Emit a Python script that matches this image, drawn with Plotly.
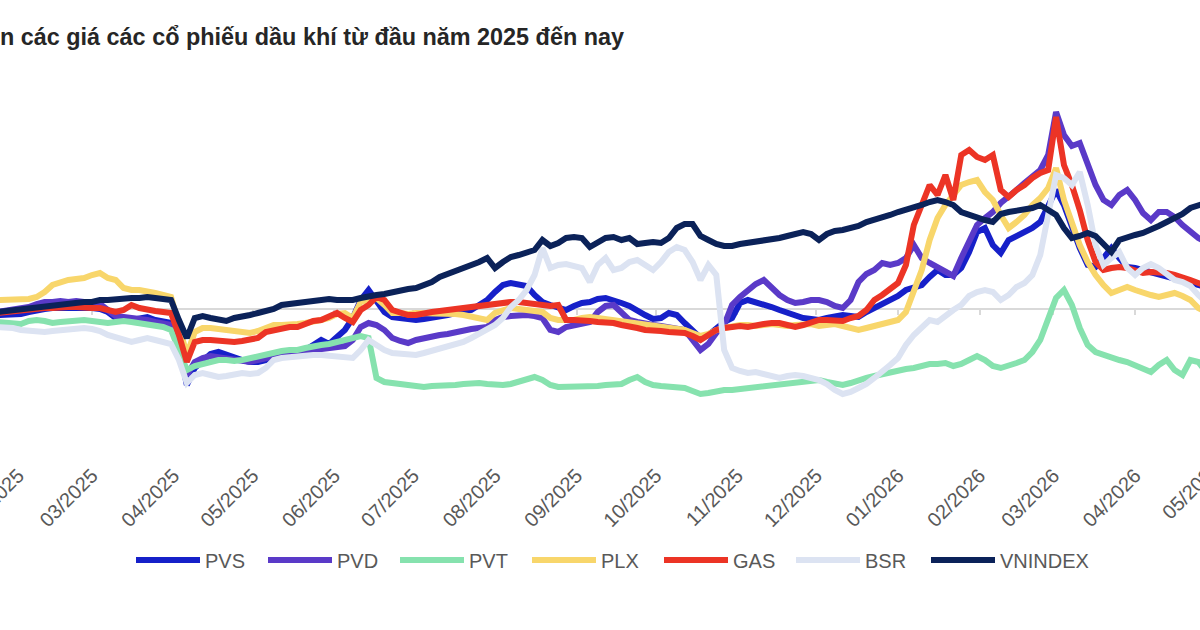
import pandas as pd
import plotly.graph_objects as go

# ---------------- data (% change) ----------------
start_date = "2025-01-24"   # first sample, every 3 calendar days

pvs = [-3, -3, -2.5, -2.5, -1.5, -0.5, 0, 0.5, 0.5, 0.5,
       1, 0.5, 0.5, 0, -1.5, -4.5, -4.5, -5.5, -4.5, -4,
       -5.5, -6.5, -7, -18, -38, -29.5, -25.5, -22.5, -21.5, -23,
       -24.5, -25.5, -26.5, -26.5, -25.5, -24.5, -23.5, -22.5, -21.5, -20.5,
       -18, -15.5, -17.5, -13.5, -10.5, -4.5, 4.5, 9.5, 4.5, -1.5,
       -4, -4.5, -5.5, -5.5, -5, -4.5, -4, -3, -2, -1.5,
       -0.5, 2, 4.5, 8.5, 12, 13, 12, 11.5, 7, 3.5,
       2, 1, -0.5, 1.5, 3, 3.5, 5, 5.5, 4.5, 3,
       1.5, -1, -3, -5, -4.5, -2, -3, -7, -10.5, -14.5,
       -13, -9.5, -6.5, -4.5, 3, 4.5, 3.5, 2, 1, -0.5,
       -2, -3.5, -4.5, -5, -5.5, -4.5, -3.5, -3, -3.5, -4,
       -1.5, 0.5, 3, 4.5, 6.5, 9.5, 10.5, 12, 16, 19.5,
       17, 17, 20.5, 28.5, 38.5, 40.5, 32, 28, 34.5, 36.5,
       38.5, 40.5, 43.5, 52, 59.5, 52, 40.5, 30.5, 22, 21,
       25.5, 30.5, 25.5, 21, 20.5, 19.5, 18.5, 17.5, 16.5, 15.5,
       14.5, 13, 12, 11]

pvd = [-1.5, -1, -0.5, 0, 1, 2.5, 3.5, 3.5, 4, 3.5,
       4, 3.5, 3, 2.5, -0.5, -3.5, -4, -4.5, -4.5, -5.5,
       -6.5, -7.5, -8, -18, -33, -26.5, -24.5, -23.5, -24, -24.5,
       -25.5, -26, -26.5, -25.5, -24.5, -24, -23, -22, -21.5, -21,
       -20.5, -20.5, -20, -19.5, -18.5, -15.5, -9, -7, -8, -10.5,
       -14.5, -16, -17, -15.5, -14.5, -14, -13, -12.5, -11.5, -11,
       -10, -9.5, -9, -5.5, -4, -3.5, -3, -3, -3.5, -4.5,
       -10.5, -11.5, -9, -8, -7.5, -6.5, -1.5, 1.5, 2, -1.5,
       -5.5, -6.5, -7.5, -8, -8.5, -9, -9.5, -10.5, -15.5, -20.5,
       -17.5, -12, -8, 2, 6, 9.5, 12.5, 14.5, 10.5, 7,
       4.5, 3, 3.5, 4.5, 4.5, 3.5, 1.5, 0.5, 4.5, 13.5,
       17.5, 19.5, 23, 22, 23, 25.5, 32, 25.5, 23, 21,
       18.5, 16.5, 25.5, 34.5, 42, 45.5, 48.5, 53, 56, 59.5,
       63, 66.5, 69.5, 77, 98.5, 87, 81.5, 83, 72, 62,
       54.5, 52, 57, 59.5, 54.5, 48, 44.5, 48.5, 48.5, 46,
       42, 38.5, 35.5, 33.5]

pvt = [-6.5, -7, -7.5, -7.5, -6, -5.5, -6, -7, -6.5, -6,
       -5.5, -5.5, -6, -6.5, -7, -6.5, -6, -6.5, -7, -8,
       -8.5, -9, -10.5, -20.5, -30.5, -28.5, -27.5, -26.5, -25.5, -25.5,
       -26, -25.5, -24.5, -24, -23, -22, -21, -20.5, -20.5, -19.5,
       -18.5, -18, -17.5, -16.5, -15.5, -14.5, -13.5, -14.5, -34.5, -36.5,
       -37, -38, -38.5, -39, -39, -38.5, -38.5, -38, -38, -37.5,
       -37, -37, -37.5, -38, -38, -37.5, -36.5, -35.5, -34, -35.5,
       -38, -39, -39, -39, -39, -38.5, -38.5, -38, -38, -37.5,
       -35.5, -34, -36.5, -38, -38.5, -39, -39.5, -39.5, -41, -42.5,
       -42, -41, -40.5, -40.5, -40, -39.5, -39.5, -39, -38.5, -38,
       -37.5, -37, -36.5, -36, -35.5, -36.5, -37.5, -38, -37, -35.5,
       -34.5, -33.5, -32.5, -31.5, -30.5, -30, -29.5, -28.5, -27.5, -27.5,
       -27, -28.5, -27.5, -25.5, -23.5, -25.5, -28.5, -29.5, -28.5, -27,
       -25.5, -21.5, -15.5, -4.5, 5.5, 9.5, 2, -9.5, -18, -21.5,
       -23, -24, -25.5, -26.5, -28, -29.5, -31.5, -28, -25.5, -30.5,
       -33, -25.5, -26.5, -31.5]

plx = [4.5, 4.5, 4.5, 4.5, 5, 6, 8.5, 12, 13.5, 14.5,
       15, 15.5, 17, 18, 15.5, 14.5, 10.5, 9.5, 9.5, 9,
       8, 7, 6, -8, -23, -11.5, -9.5, -9.5, -10, -10.5,
       -11, -11.5, -12, -11, -9.5, -8, -8, -8, -7.5, -7,
       -6.5, -5.5, -4.5, -2.5, -2, -4.5, 3.5, 4.5, 5.5, 2,
       -2, -2, -2.5, -2, -2, -2.5, -2, -2, -2.5, -3,
       -4, -5, -5.5, -2, -0.5, 0.5, 0, -0.5, -0.5, -1.5,
       -4.5, -5.5, -5.5, -5.5, -4.5, -4, -4.5, -5, -5.5, -6,
       -6.5, -7, -7.5, -8, -8.5, -9, -9.5, -10.5, -12, -13.5,
       -12.5, -10.5, -9.5, -8.5, -8, -8, -8.5, -8, -7.5, -8,
       -8.5, -8, -7.5, -7.5, -8.5, -8, -7.5, -8.5, -9.5, -10.5,
       -9.5, -8.5, -7.5, -6.5, -5.5, -1.5, 8.5, 19.5, 34.5, 45.5,
       52, 57, 62, 63.5, 64.5, 58.5, 54.5, 47, 40.5, 43.5,
       47, 52, 55.5, 60.5, 70.5, 54.5, 42, 32, 23.5, 17,
       12, 8, 9.5, 11, 9.5, 8, 7, 6, 7, 8,
       6.5, 4.5, 0.5, -1.5]

gas = [-2, -1.5, -1.5, -1, 0, 0.5, 0.5, 0.5, 1, 1,
       1, 0.5, 0.5, 0.5, -0.5, -1.5, -0.5, 2, 0.5, -0.5,
       -1, -1.5, -2, -13, -26.5, -16.5, -15.5, -15.5, -16, -16.5,
       -16.5, -16, -15.5, -14.5, -11.5, -10.5, -9.5, -9, -9, -7.5,
       -6, -5.5, -3.5, -2, -4.5, -6.5, -0.5, 2, 6, 4.5,
       -0.5, -2, -3, -3, -2, -1.5, -1, -0.5, 0, 0.5,
       1, 2, 2.5, 3, 3.5, 3.5, 3.5, 3, 2, 2,
       1.5, 2, -5.5, -5.5, -5.5, -6, -6.5, -6.5, -7, -8,
       -8.5, -9.5, -10.5, -10.5, -11, -11.5, -12, -12, -13.5, -15.5,
       -13, -10.5, -9.5, -9, -8.5, -9, -8, -7.5, -7, -7,
       -8, -9, -8, -6.5, -5.5, -5.5, -5.5, -6, -4.5, -3.5,
       -0.5, 4.5, 7, 10.5, 13, 22, 42, 52, 62, 57,
       67, 54.5, 77, 79.5, 76, 74.5, 77, 59.5, 56, 59.5,
       62, 65.5, 68, 69.5, 96, 72, 62, 49.5, 34.5, 23.5,
       19.5, 20.5, 21, 20.5, 19.5, 18, 18.5, 18.5, 18, 17,
       16, 14.5, 13, 11.5]

bsr = [-9, -9, -9.5, -10.5, -11, -11.5, -11.5, -11, -10.5, -10,
       -9.5, -9.5, -10, -11, -13, -14, -15.5, -16.5, -15.5, -14.5,
       -15.5, -16.5, -17.5, -25.5, -37, -33, -32, -33, -34, -33.5,
       -32.5, -32, -32.5, -32, -29.5, -25.5, -24.5, -24, -24, -23.5,
       -23, -23, -23.5, -24, -24.5, -24.5, -20.5, -15.5, -18, -20.5,
       -22, -22.5, -23, -23, -22, -21, -20, -19, -18, -16.5,
       -14.5, -12.5, -10.5, -8, -4.5, 1, 4.5, 9.5, 17, 30.5,
       20.5, 22, 22.5, 21.5, 20.5, 13.5, 22, 25.5, 19.5, 20.5,
       23.5, 24.5, 22, 19.5, 23.5, 28.5, 31, 29.5, 23.5, 14.5,
       22, 17, -20.5, -29.5, -31, -32, -31.5, -32.5, -34, -34.5,
       -33.5, -33, -33.5, -34.5, -35.5, -37.5, -40.5, -42.5, -41.5, -39.5,
       -37.5, -34.5, -31.5, -28, -24.5, -18, -13, -9.5, -5.5, -6.5,
       -3, -0.5, 2, 6.5, 8.5, 9.5, 8.5, 4.5, 7, 11,
       13, 17, 27, 47, 67, 65.5, 62, 68.5, 52, 32,
       22, 25.5, 28.5, 20.5, 17, 20.5, 22.5, 20.5, 17, 14.5,
       13.5, 11.5, 7, 3.5]

vnindex = [-1.5, -1, -0.5, 0, 0.5, 1, 1.5, 2, 2, 2.5,
           3, 3.5, 3.5, 4.5, 4.5, 5, 5.5, 5.5, 5.5, 6,
           5.5, 5, 4.5, -5.5, -14.5, -4.5, -3.5, -4.5, -5.5, -6,
           -4.5, -4, -3, -2, -1, 0, 2, 2.5, 3, 3.5,
           4.5, 4.5, 5, 4.5, 4.5, 4.5, 5.5, 6.5, 7, 7.5,
           8.5, 9, 10, 10.5, 12, 13.5, 16, 17.5, 18.5, 20.5,
           21.5, 23.5, 25.5, 20.5, 23.5, 26, 27, 28.5, 29.5, 34.5,
           31.5, 33, 35.5, 36, 35.5, 31, 33.5, 35.5, 36, 34.5,
           35.5, 32.5, 33, 33.5, 33, 35.5, 40.5, 42.5, 42.5, 36.5,
           34.5, 32.5, 31.5, 31.5, 32.5, 33, 34, 34.5, 34.5, 35.5,
           36.5, 37.5, 38.5, 37.5, 34.5, 37.5, 39, 39.5, 40.5, 41.5,
           43.5, 44.5, 45.5, 47, 48.5, 49.5, 50.5, 52, 53.5, 54.5,
           53.5, 52, 48.5, 47, 45.5, 44.5, 43.5, 47.5, 48.5, 49,
           49.5, 50.5, 52, 49.5, 47, 40.5, 35.5, 36.5, 38, 36.5,
           32, 28.5, 34.5, 36, 37, 38, 39.5, 41.5, 43.5, 45.5,
           47.5, 50.5, 52, 53]

series_names = ["PVS", "PVD", "PVT", "PLX", "GAS", "BSR", "VNINDEX"]
series_values = [pvs, pvd, pvt, plx, gas, bsr, vnindex]
series_colors = ["#1620c9", "#5a3ac8", "#86e2ae", "#f8d66b", "#ec3425", "#dce3f2", "#0b2259"]

tick_vals = ["2025-02-01", "2025-03-01", "2025-04-01", "2025-05-01", "2025-06-01",
             "2025-07-01", "2025-08-01", "2025-09-01", "2025-10-01", "2025-11-01",
             "2025-12-01", "2026-01-01", "2026-02-01", "2026-03-01", "2026-04-01",
             "2026-05-01"]
tick_text = ["02/2025", "03/2025", "04/2025", "05/2025", "06/2025", "07/2025",
             "08/2025", "09/2025", "10/2025", "11/2025", "12/2025", "01/2026",
             "02/2026", "03/2026", "04/2026", "05/2026"]

title_text = "n các giá các cổ phiếu dầu khí từ đầu năm 2025 đến nay"

# ---------------- figure ----------------
FONT = "Liberation Sans, Arial, sans-serif"
W, H = 1200, 630
M_T, M_B = 80, 171
Y_RANGE = [-75, 114.5]
X_RANGE = [pd.Timestamp("2025-01-25 01:40"), pd.Timestamp("2026-04-25 15:30")]
PLOT_H = H - M_T - M_B
LEGEND_Y = -(560 - (H - M_B)) / PLOT_H

fig = go.Figure()
for name, vals, col in zip(series_names, series_values, series_colors):
    dates = pd.date_range(start_date, periods=len(vals), freq="3D")
    fig.add_trace(go.Scatter(x=dates, y=vals, name=name, mode="lines",
                             line=dict(color=col, width=6),
                             legend="legend2" if name == "VNINDEX" else "legend"))

# helper (empty) trace so the tick-only axis on the zero line is rendered
fig.add_trace(go.Scatter(x=[pd.Timestamp(start_date)], y=[None], xaxis="x2",
                         showlegend=False, hoverinfo="skip"))

zero_pos = (0 - Y_RANGE[0]) / (Y_RANGE[1] - Y_RANGE[0])

# labels whose month tick lies past the right edge of the (cropped) axis
span = (X_RANGE[1] - X_RANGE[0]).total_seconds()
annotations = []
for tv, tt in zip(tick_vals, tick_text):
    t = pd.Timestamp(tv)
    if t > X_RANGE[1]:
        frac = (t - X_RANGE[0]).total_seconds() / span
        annotations.append(dict(x=frac, xref="paper", y=0, yref="paper",
                                xshift=-23, yshift=-31, text=tt, textangle=-45,
                                showarrow=False, xanchor="center", yanchor="middle",
                                font=dict(family=FONT, size=20, color="#595959")))

legend_common = dict(orientation="h", xanchor="left", y=LEGEND_Y, yanchor="middle",
                     font=dict(family=FONT, size=20, color="#595959"),
                     itemwidth=64, traceorder="normal", bgcolor="rgba(0,0,0,0)")

fig.update_layout(
    width=W, height=H,
    margin=dict(l=0, r=0, t=M_T, b=M_B, pad=0),
    paper_bgcolor="white", plot_bgcolor="white",
    font=dict(family=FONT, color="#595959"),
    title=dict(text="<b>" + title_text + "</b>", x=0, xref="container", xanchor="left",
               y=1 - 37 / H, yref="container", yanchor="middle",
               font=dict(family=FONT, size=23.4, color="#262626")),
    showlegend=True,
    legend=dict(x=131 / W, entrywidth=53, **legend_common),
    legend2=dict(x=926 / W, **legend_common),
    xaxis=dict(type="date", range=X_RANGE, showgrid=False, zeroline=False, showline=False,
               ticks="", tickvals=tick_vals, ticktext=tick_text, tickangle=-45,
               ticklabeloverflow="allow",
               tickfont=dict(size=20, color="#595959"), automargin=False),
    xaxis2=dict(type="date", overlaying="x", matches="x", anchor="free", position=zero_pos,
                showgrid=False, zeroline=False, showline=False, showticklabels=False,
                ticks="outside", ticklen=5, tickwidth=2, tickcolor="#d9d9d9",
                tickvals=tick_vals, layer="below traces"),
    yaxis=dict(range=Y_RANGE, showgrid=False, showticklabels=False, ticks="",
               zeroline=True, zerolinecolor="#d9d9d9", zerolinewidth=2, showline=False),
    annotations=annotations,
    hovermode=False,
)

fig.write_html("out.html")
